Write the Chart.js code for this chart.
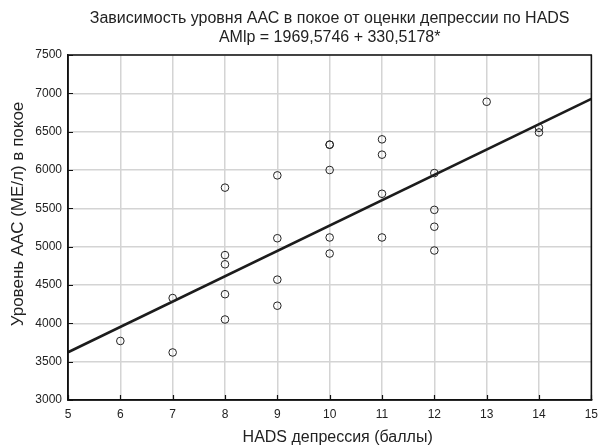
<!DOCTYPE html>
<html>
<head>
<meta charset="utf-8">
<script src="https://cdn.jsdelivr.net/npm/chart.js@4/dist/chart.umd.min.js"></script>
<style>
  html, body { margin: 0; padding: 0; background: #fff; }
  canvas { display: block; }
</style>
</head>
<body>
<canvas id="chart" width="605" height="447"></canvas>
<script>
// HADS depression score for each patient
const hadsScores = [6, 7, 7, 8, 8, 8, 8, 8, 9, 9, 9, 9, 10, 10, 10, 10, 10,
                    11, 11, 11, 11, 12, 12, 12, 12, 13, 14, 14];
// Resting AAC level (IU/l) for the same patients
const aacLevels = [3770, 4330, 3620, 5770, 4890, 4770, 4380, 4050, 5930, 5110, 4570, 4230,
                   6330, 6330, 6000, 5120, 4910, 6400, 6200, 5690, 5120,
                   5960, 5480, 5260, 4950, 6890, 6550, 6490];
// Linear fit: AMlp = intercept + slope * score
const fitIntercept = 1969.5746;
const fitSlope = 330.5178;
const fitRange = [5, 15];

const xTickValues = [5, 6, 7, 8, 9, 10, 11, 12, 13, 14, 15];
const yTickValues = [3000, 3500, 4000, 4500, 5000, 5500, 6000, 6500, 7000, 7500];

const titleLines = [
  'Зависимость уровня ААС в покое от оценки депрессии по HADS',
  'AMlp = 1969,5746 + 330,5178*'
];
const xAxisTitle = 'HADS депрессия (баллы)';
const yAxisTitle = 'Уровень ААС (МЕ/л) в покое';

const FONT = '"Liberation Sans", Arial, sans-serif';

const points = hadsScores.map((s, i) => ({ x: s, y: aacLevels[i] }));
const fitLine = fitRange.map(s => ({ x: s, y: fitIntercept + fitSlope * s }));

// Two-line heading centred over the plot area, plus both axis titles
const textPlugin = {
  id: 'texts',
  afterDraw(chart) {
    const { ctx, chartArea } = chart;
    const cx = (chartArea.left + chartArea.right) / 2;
    ctx.save();
    ctx.fillStyle = '#222';
    ctx.font = '16px ' + FONT;
    ctx.textAlign = 'center';
    ctx.textBaseline = 'alphabetic';
    ctx.fillText(titleLines[0], cx, 23);
    ctx.fillText(titleLines[1], cx, 42);

    ctx.fillText(xAxisTitle, cx + 8, 442);

    ctx.font = '17px ' + FONT;
    ctx.translate(23, 214);
    ctx.rotate(-Math.PI / 2);
    ctx.fillText(yAxisTitle, 0, 0);
    ctx.restore();
  }
};

// Closed frame around the plot plus inward tick marks
const framePlugin = {
  id: 'frame',
  afterDatasetsDraw(chart) {
    const { ctx, chartArea: a, scales } = chart;
    ctx.save();
    ctx.strokeStyle = '#111';
    ctx.lineWidth = 1.5;
    ctx.strokeRect(a.left, a.top, a.right - a.left, a.bottom - a.top);
    ctx.lineWidth = 1.2;
    ctx.beginPath();
    xTickValues.forEach(v => {
      const px = Math.round(scales.x.getPixelForValue(v)) + 0.5;
      ctx.moveTo(px, a.bottom);
      ctx.lineTo(px, a.bottom - 5);
    });
    yTickValues.forEach(v => {
      const py = Math.round(scales.y.getPixelForValue(v)) + 0.5;
      ctx.moveTo(a.left, py);
      ctx.lineTo(a.left + 5, py);
    });
    ctx.stroke();
    ctx.restore();
  }
};

new Chart(document.getElementById('chart'), {
  type: 'scatter',
  data: {
    datasets: [
      {
        label: 'Пациенты',
        data: points,
        pointStyle: 'circle',
        pointRadius: 3.8,
        pointBorderWidth: 1,
        pointBorderColor: '#222',
        pointBackgroundColor: 'rgba(0,0,0,0)'
      },
      {
        label: 'Регрессия',
        data: fitLine,
        showLine: true,
        borderColor: '#1c1c1c',
        borderWidth: 2.6,
        pointRadius: 0
      }
    ]
  },
  options: {
    responsive: false,
    animation: false,
    layout: { padding: { top: 55, right: 9, left: 0, bottom: 0 } },
    plugins: {
      legend: { display: false },
      tooltip: { enabled: false },
      title: { display: false }
    },
    scales: {
      x: {
        type: 'linear',
        min: 5,
        max: 15,
        afterBuildTicks(scale) { scale.ticks = xTickValues.map(v => ({ value: v })); },
        afterFit(scale) { scale.height = 47; },
        ticks: {
          font: { family: FONT, size: 12 }, color: '#222', padding: 7,
          callback: v => String(v)
        },
        grid: { color: '#d4d4d4', lineWidth: 1.5, drawTicks: false },
        border: { display: true, color: '#111', width: 1.5 },
        title: { display: false }
      },
      y: {
        type: 'linear',
        min: 3000,
        max: 7500,
        afterBuildTicks(scale) { scale.ticks = yTickValues.map(v => ({ value: v })); },
        afterFit(scale) { scale.width = 68; },
        ticks: {
          font: { family: FONT, size: 12 }, color: '#222', padding: 6,
          callback: v => String(v)
        },
        grid: { color: '#d4d4d4', lineWidth: 1.5, drawTicks: false },
        border: { display: true, color: '#111', width: 1.5 },
        title: { display: false }
      }
    }
  },
  plugins: [textPlugin, framePlugin]
});
</script>
</body>
</html>
